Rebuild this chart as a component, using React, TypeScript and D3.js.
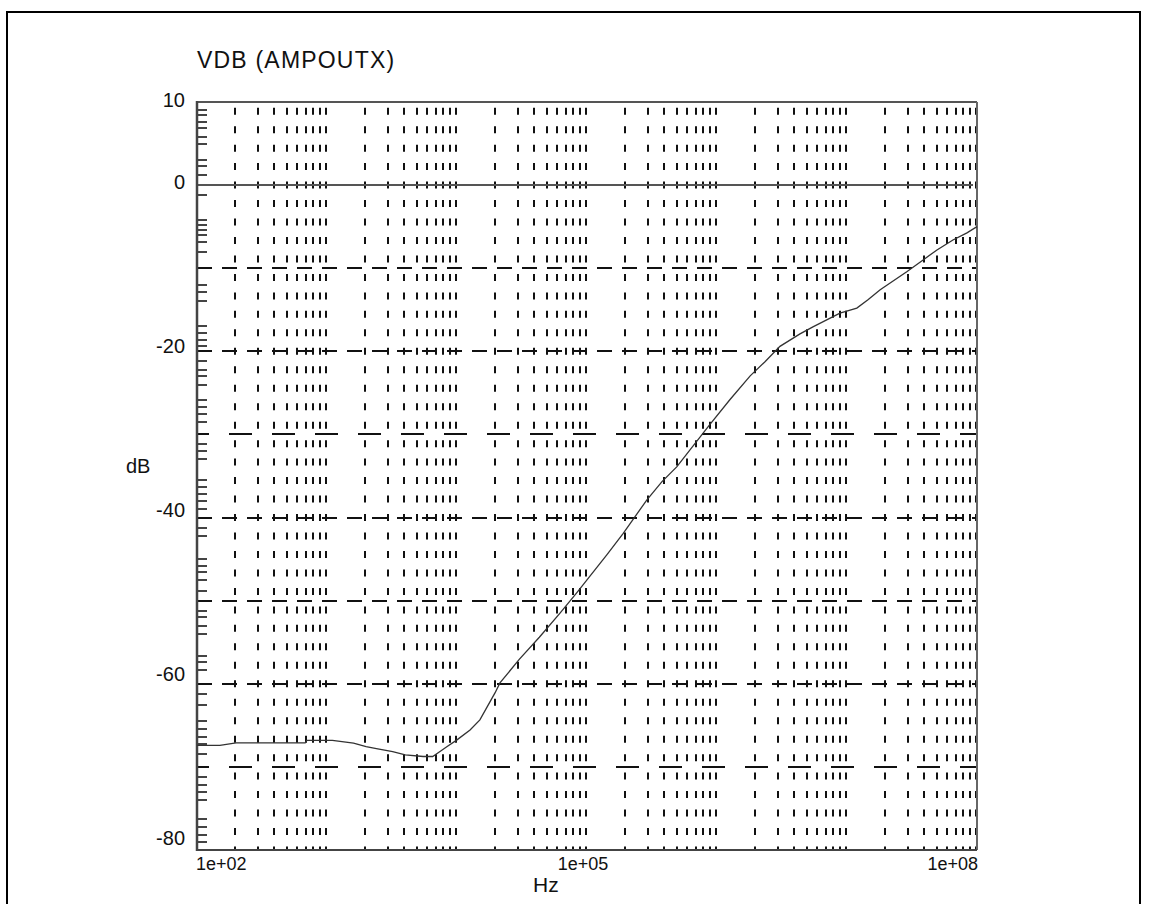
import React from "react";
import * as d3 from "d3";

// ---- data ----
const FREQ = [100, 150, 200, 300, 680, 700, 1100, 1600, 2000, 2400, 3200, 4000, 5500, 6500, 7400, 8400, 10000, 12600, 15000, 19600, 21400, 30000, 43000, 62000, 83000, 142000, 190000, 288000, 376000, 490000, 883000, 1.26e6, 1.8e6, 2.34e6, 3.05e6, 4.35e6, 5.47e6, 8.83e6, 1.19e7, 1.45e7, 1.8e7, 2.9e7, 3.85e7, 4.92e7, 6.53e7, 8.37e7, 1e8];
const VDB = [-67.4, -67.4, -67.1, -67.1, -67.1, -66.8, -66.8, -67.15, -67.55, -67.8, -68.15, -68.55, -68.75, -68.75, -68.15, -67.55, -66.75, -65.55, -64.35, -61.1, -59.9, -57.1, -54.4, -51.5, -49.1, -44.5, -41.9, -37.9, -35.7, -33.9, -28.8, -25.8, -22.95, -21.25, -19.4, -17.9, -17.05, -15.4, -14.8, -13.8, -12.6, -10.4, -9.0, -7.8, -6.6, -5.75, -5.0];

const Y_LABELS = [10, 0, -20, -40, -60, -80];
const Y_GRID_SHORT = [-10, -20, -40, -50, -60, -80];
const Y_GRID_LONG = [-30, -70];
const Y_MINOR = [
  9.0, 8.4, 7.6, 6.9, 5.8, 4.9, 3.0, 2.3, 1.2,
  -1.2, -4.2, -4.8, -5.4, -6.0, -6.9, -8.0,
  -12.0, -12.9, -13.9, -16.9, -17.8, -18.6, -19.3,
  -21.2, -22.2, -23.0, -24.0, -25.8, -26.7, -27.6, -28.5,
  -31.2, -32.0, -33.0, -35.5, -36.3, -37.2, -38.0, -39.0,
  -41.3, -42.2, -45.0, -45.8, -46.6, -47.5, -48.8,
  -51.2, -52.0, -53.0, -54.0, -56.6, -57.4, -58.4,
  -61.2, -62.6, -64.5, -65.5, -66.4, -67.2, -68.4,
  -71.2, -72.2, -73.0, -74.0, -76.3, -77.2, -78.2, -79.0,
];
const X_LABELS = [
  { v: 1e2, t: "1e+02", a: "start" },
  { v: 1e5, t: "1e+05", a: "middle" },
  { v: 1e8, t: "1e+08", a: "end" },
];
const DECADES = [1e2, 1e3, 1e4, 1e5, 1e6, 1e7];
const MULTS = [2, 3, 4, 5, 6, 7, 8, 9, 10];

const W = 1149, H = 904;
const L = 197, R = 977, T = 102, B = 850;
const FONT = "'Liberation Sans', Arial, sans-serif";

export default function App() {
  const x = d3.scaleLog().domain([1e2, 1e8]).range([L, R]);
  const y = d3.scaleLinear().domain([10, -80]).range([T, B]);
  const labelY = d3.scaleLinear().domain([10, -80]).range([107, 845]);

  const vgrid: number[] = [];
  DECADES.forEach((d) => MULTS.forEach((m) => vgrid.push(d * m)));

  const line = d3
    .line<number>()
    .x((_, i) => x(FREQ[i]))
    .y((v) => y(v));

  const vPeriod = 18.47;
  const vOffset = 12.78;

  return (
    <div style={{ position: "absolute", left: 0, top: 0 }}>
      <svg width={W} height={H} style={{ display: "block", background: "#fff" }}>
        <rect x={7} y={12} width={1133} height={900} fill="none" stroke="#000" strokeWidth={2} />

        {/* vertical dashed grid */}
        {vgrid.map((f, i) => {
          const px = Math.round(x(f)) - 1;
          return (
            <line key={"v" + i} x1={px} x2={px} y1={T} y2={B}
              stroke="#111" strokeWidth={2}
              strokeDasharray={`7 ${vPeriod - 7}`} strokeDashoffset={vOffset} />
          );
        })}

        {/* horizontal dashed grid */}
        {Y_GRID_SHORT.map((v) => (
          <line key={"hs" + v} x1={L} x2={R} y1={Math.round(y(v))} y2={Math.round(y(v))}
            stroke="#111" strokeWidth={2} strokeDasharray="15 10" />
        ))}
        {Y_GRID_LONG.map((v) => (
          <line key={"hl" + v} x1={L} x2={R} y1={Math.round(y(v))} y2={Math.round(y(v))}
            stroke="#111" strokeWidth={2} strokeDasharray="23 20" strokeDashoffset={11} />
        ))}
        {/* zero line */}
        <line x1={L} x2={R - 4} y1={Math.round(y(0))} y2={Math.round(y(0))} stroke="#555" strokeWidth={2} />

        {/* plot frame */}
        <line x1={L} x2={R} y1={T} y2={T} stroke="#555" strokeWidth={2} />
        <line x1={R} x2={R} y1={T} y2={B} stroke="#666" strokeWidth={2} />
        <line x1={L} x2={R} y1={B} y2={B} stroke="#444" strokeWidth={2} />
        <line x1={L} x2={L} y1={T - 1} y2={B + 1} stroke="#444" strokeWidth={2.5} />

        {/* y minor ticks */}
        {Y_MINOR.map((v, i) => (
          <line key={"mt" + i} x1={L} x2={L + 10} y1={Math.round(y(v))} y2={Math.round(y(v))} stroke="#444" strokeWidth={2} />
        ))}

        {/* curve */}
        <path d={line(VDB) || ""} fill="none" stroke="#333" strokeWidth={1.3} />

        {/* texts */}
        <text x={197} y={68} fontFamily={FONT} fontSize={23} letterSpacing={1.2} fill="#111">VDB (AMPOUTX)</text>
        {Y_LABELS.map((v) => (
          <text key={"yl" + v} x={185} y={labelY(v)} textAnchor="end" fontFamily={FONT} fontSize={20} fill="#111">
            {String(v)}
          </text>
        ))}
        <text x={126} y={473} fontFamily={FONT} fontSize={20} fill="#111">dB</text>
        {X_LABELS.map((d) => (
          <text key={d.t} x={d.a === "middle" ? x(d.v) - 4 : d.a === "end" ? x(d.v) + 1 : x(d.v) - 1} y={870}
            textAnchor={d.a as any} fontFamily={FONT} fontSize={18} fill="#111">{d.t}</text>
        ))}
        <text x={533} y={892} fontFamily={FONT} fontSize={21} fill="#111">Hz</text>
      </svg>
    </div>
  );
}
